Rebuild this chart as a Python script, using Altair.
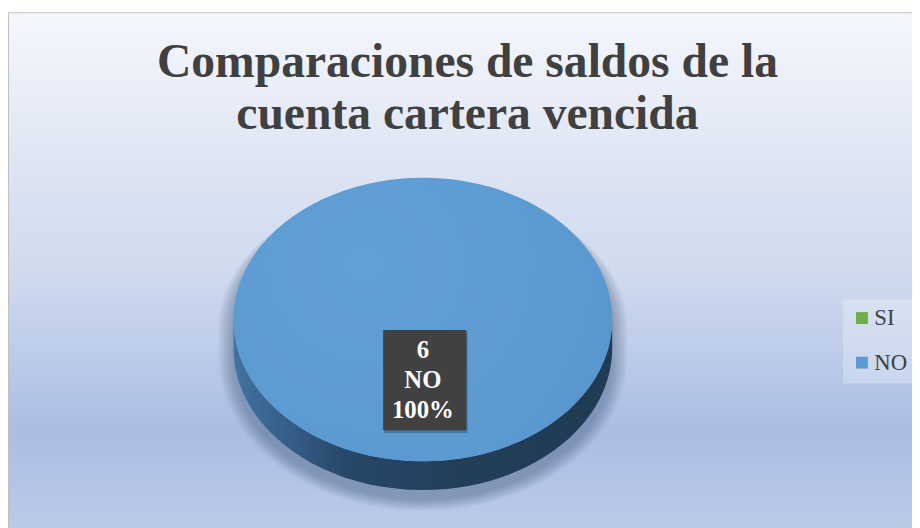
import math
import altair as alt
import pandas as pd

# ---- data ----
categories = ["SI", "NO"]
counts = [0, 6]
colors = ["#70ad47", "#5b9bd5"]
title_lines = ["Comparaciones de saldos de la", "cuenta cartera vencida"]

# ---- layout constants (pixels, relative to view origin) ----
W, H = 912, 520
CX, CY = 418.5, 312          # pie centre
RX = 191                     # horizontal radius
K = 143 / 191                # vertical squash of the ellipse
D = 29 / 191                 # depth of the pie side
PIE_SIZE = (2 * RX) ** 2
SERIF = "'Times New Roman', 'Liberation Serif', Times, serif"

total = sum(counts)


def pt(theta_deg, dy=0.0):
    t = math.radians(theta_deg)
    return f"{math.sin(t):.5f},{(-K * math.cos(t) + dy):.5f}"


def top_path(a, b):
    if b - a >= 359.999:
        return f"M-1,0A1,{K:.5f} 0 1 1 1,0A1,{K:.5f} 0 1 1 -1,0Z"
    large = 1 if b - a > 180 else 0
    return f"M0,0L{pt(a)}A1,{K:.5f} 0 {large} 1 {pt(b)}Z"


def side_path(a, b):
    a2, b2 = max(a, 90), min(b, 270)
    if b2 <= a2:
        return None
    return (f"M{pt(a2)}A1,{K:.5f} 0 0 1 {pt(b2)}L{pt(b2, D)}"
            f"A1,{K:.5f} 0 0 0 {pt(a2, D)}Z")


rows_top, rows_side, rows_lab = [], [], []
start = 0.0
for cat, val in zip(categories, counts):
    frac = val / total
    end = start + frac * 360
    if val > 0:
        rows_top.append({"cat": cat, "path": top_path(start, end)})
        sp = side_path(start, end)
        if sp:
            rows_side.append({"cat": cat, "path": sp})
        mid = math.radians((start + end) / 2)
        lx = CX + 0.42 * RX * math.sin(mid) * (0 if frac >= 1 else 1)
        ly = CY + 0.42 * RX * K * (-math.cos(mid))
        rows_lab.append({"cat": cat, "lx": lx, "ly": ly,
                         "label": f"{val}\n{cat}\n{round(frac * 100)}%"})
    start = end

df_top = pd.DataFrame(rows_top)
df_side = pd.DataFrame(rows_side)
df_lab = pd.DataFrame(rows_lab)
one = pd.DataFrame({"k": [0]})

bg_grad = alt.LinearGradient(
    gradient="linear", x1=0, x2=0, y1=0, y2=1,
    stops=[alt.GradientStop(offset=0, color="#f5f7fc"),
           alt.GradientStop(offset=0.25, color="#e1e7f4"),
           alt.GradientStop(offset=0.5, color="#cfdaee"),
           alt.GradientStop(offset=0.8, color="#aabee4"),
           alt.GradientStop(offset=1, color="#bccbe8")])

side_grad = alt.LinearGradient(
    gradient="linear", x1=0, x2=1, y1=0, y2=0,
    stops=[alt.GradientStop(offset=0, color="#4273a2"),
           alt.GradientStop(offset=0.3, color="#27476a"),
           alt.GradientStop(offset=0.6, color="#223e58"),
           alt.GradientStop(offset=1, color="#203b54")])

top_grad_overlay = alt.RadialGradient(
    gradient="radial", x1=0.35, y1=0.35, r1=0, x2=0.35, y2=0.35, r2=0.9,
    stops=[alt.GradientStop(offset=0, color="rgba(255,255,255,0.04)"),
           alt.GradientStop(offset=1, color="rgba(0,30,60,0.06)")])

background = alt.Chart(one).mark_rect(fill=bg_grad, stroke="#bfbfbf", strokeWidth=1).encode(
    x=alt.value(0.5), x2=alt.value(W + 10), y=alt.value(2.5), y2=alt.value(H + 10))


# soft shadow below the pie (stack of faint silhouettes)
def shadow_path(e):
    rx = 1 + e
    t = 0.045
    eb = 0.8 * e
    return (f"M{-rx:.4f},{t:.4f}A{rx:.4f},{K:.4f} 0 0 1 {rx:.4f},{t:.4f}"
            f"L{rx:.4f},{D + t:.4f}A{rx:.4f},{K + eb:.4f} 0 0 1 {-rx:.4f},{D + t:.4f}Z")


shadow_layers = []
for i in range(1, 11):
    shadow_layers.append(
        alt.Chart(one).mark_point(filled=True, shape=shadow_path(0.008 * i),
                                  fill="#1e2d4a", opacity=0.035,
                                  strokeWidth=0).encode(
            x=alt.value(CX), y=alt.value(CY), size=alt.value(PIE_SIZE)))

side = alt.Chart(df_side).mark_point(filled=True, fill=side_grad, opacity=1,
                                     strokeWidth=0).encode(
    x=alt.value(CX), y=alt.value(CY), size=alt.value(PIE_SIZE),
    shape=alt.Shape("path:N", scale=None, legend=None))

top = alt.Chart(df_top).mark_point(filled=True, opacity=1, strokeWidth=0).encode(
    x=alt.value(CX), y=alt.value(CY), size=alt.value(PIE_SIZE),
    shape=alt.Shape("path:N", scale=None, legend=None),
    color=alt.Color("cat:N", scale=alt.Scale(domain=categories, range=colors),
                    legend=alt.Legend(
                        title=None, orient="none", legendX=842, legendY=291,
                        symbolType="square", symbolSize=144, symbolStrokeWidth=0,
                        labelFont=SERIF, labelFontSize=23,
                        labelColor="#404040", labelOffset=1, rowPadding=21,
                        padding=8, fillColor="rgba(255,255,255,0.28)",
                        strokeColor="rgba(0,0,0,0)")))

top_shade = alt.Chart(df_top).mark_point(filled=True, fill=top_grad_overlay, opacity=1,
                                         strokeWidth=0).encode(
    x=alt.value(CX), y=alt.value(CY), size=alt.value(PIE_SIZE),
    shape=alt.Shape("path:N", scale=None, legend=None))

box_shape = "M-0.832,-1H0.832V1H-0.832Z"
box_shadow = alt.Chart(df_lab).mark_point(filled=True, shape=box_shape, fill="#1d3350",
                                          opacity=0.35, strokeWidth=0).encode(
    x=alt.X("lx:Q", scale=None, axis=None),
    y=alt.Y("ly:Q", scale=None, axis=None),
    size=alt.value(101 ** 2), xOffset=alt.value(3), yOffset=alt.value(4))
box = alt.Chart(df_lab).mark_point(filled=True, shape=box_shape, fill="#414141",
                                   opacity=1, strokeWidth=0).encode(
    x=alt.X("lx:Q", scale=None, axis=None),
    y=alt.Y("ly:Q", scale=None, axis=None),
    size=alt.value(101 ** 2), xOffset=alt.value(2), yOffset=alt.value(1))
label = alt.Chart(df_lab).mark_text(font=SERIF, fontWeight="bold",
                                    fontSize=25, color="white", lineBreak="\n",
                                    lineHeight=30, baseline="middle",
                                    align="center", dy=-29).encode(
    x=alt.X("lx:Q", scale=None, axis=None),
    y=alt.Y("ly:Q", scale=None, axis=None),
    text="label:N")

title = alt.Chart(one).mark_text(font=SERIF, fontWeight="bold",
                                 fontSize=48, color="#404040", lineBreak="\n",
                                 lineHeight=53, baseline="alphabetic",
                                 align="center",
                                 text="\n".join(title_lines)).encode(
    x=alt.value(463.5), y=alt.value(67))

chart = alt.layer(background, *shadow_layers, side, top, top_shade, box_shadow, box,
                  label, title).properties(
    width=W, height=H, padding=0, background="white",
    autosize=alt.AutoSizeParams(type="none")
).configure_view(stroke=None)

chart.save("out.html", embed_options={"renderer": "svg", "actions": False})
